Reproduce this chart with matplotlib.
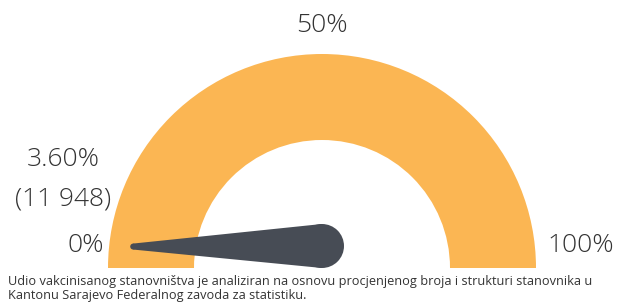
import matplotlib.pyplot as plt
import numpy as np
from matplotlib.patches import Wedge, Circle, Polygon

# Data
gauge_min = 0
gauge_max = 100
value_pct = 3.60
value_count = "11 948"
caption = ("Udio vakcinisanog stanovništva je analiziran na osnovu procjenjenog broja i strukturi stanovnika u\n"
           "Kantonu Sarajevo Federalnog zavoda za statistiku.")

# Style / layout (pixel units, figure is 619x303)
W, H = 619, 303
cx, cy = 322, H - 268
r_out, r_in = 214, 128
pivot = (322, H - 246)
needle_len = 190
orange = "#FBB653"
needle_col = "#474C55"
txt_col = "#333333"
label_font = ["Open Sans", "DejaVu Sans"]
lab_kw = dict(fontsize=19, color=txt_col, family=label_font, weight="light")

fig = plt.figure(figsize=(W / 100, H / 100), dpi=100)
ax = fig.add_axes([0, 0, 1, 1])
ax.set_xlim(0, W)
ax.set_ylim(0, H)
ax.axis("off")

# gauge arc
ax.add_patch(Wedge((cx, cy), r_out, 0, 180, width=r_out - r_in, facecolor=orange, edgecolor="none"))

# needle: tip at the value angle, measured from the gauge center
ang = np.deg2rad(180 - (value_pct - gauge_min) / (gauge_max - gauge_min) * 180)
tip = np.array([cx + needle_len * np.cos(ang), cy + needle_len * np.sin(ang)])
piv = np.array(pivot, dtype=float)
d = piv - tip
d /= np.linalg.norm(d)
n = np.array([-d[1], d[0]])
r_tip, r_base = 3, 22
poly = [tip + n * r_tip, piv + n * r_base, piv - n * r_base, tip - n * r_tip]
ax.add_patch(Polygon(poly, closed=True, facecolor=needle_col, edgecolor="none"))
ax.add_patch(Circle(piv, r_base, facecolor=needle_col, edgecolor="none"))
ax.add_patch(Circle(tip, r_tip, facecolor=needle_col, edgecolor="none"))

# labels
ax.text(cx, H - 26, f"{(gauge_min + gauge_max) // 2}%", ha="center", va="center", **lab_kw)
ax.text(104, H - 246, f"{gauge_min}%", ha="right", va="center", **lab_kw)
ax.text(547, H - 246, f"{gauge_max}%", ha="left", va="center", **lab_kw)
ax.text(63, H - 160, f"{value_pct:.2f}%", ha="center", va="center", **lab_kw)
ax.text(63, H - 199, f"({value_count})", ha="center", va="center", **lab_kw)

# caption
ax.text(8, H - 275, caption, ha="left", va="top", fontsize=9.2, color="#333333",
        family=["Open Sans", "DejaVu Sans"], linespacing=1.05)

fig.savefig("out.png", dpi=100)
